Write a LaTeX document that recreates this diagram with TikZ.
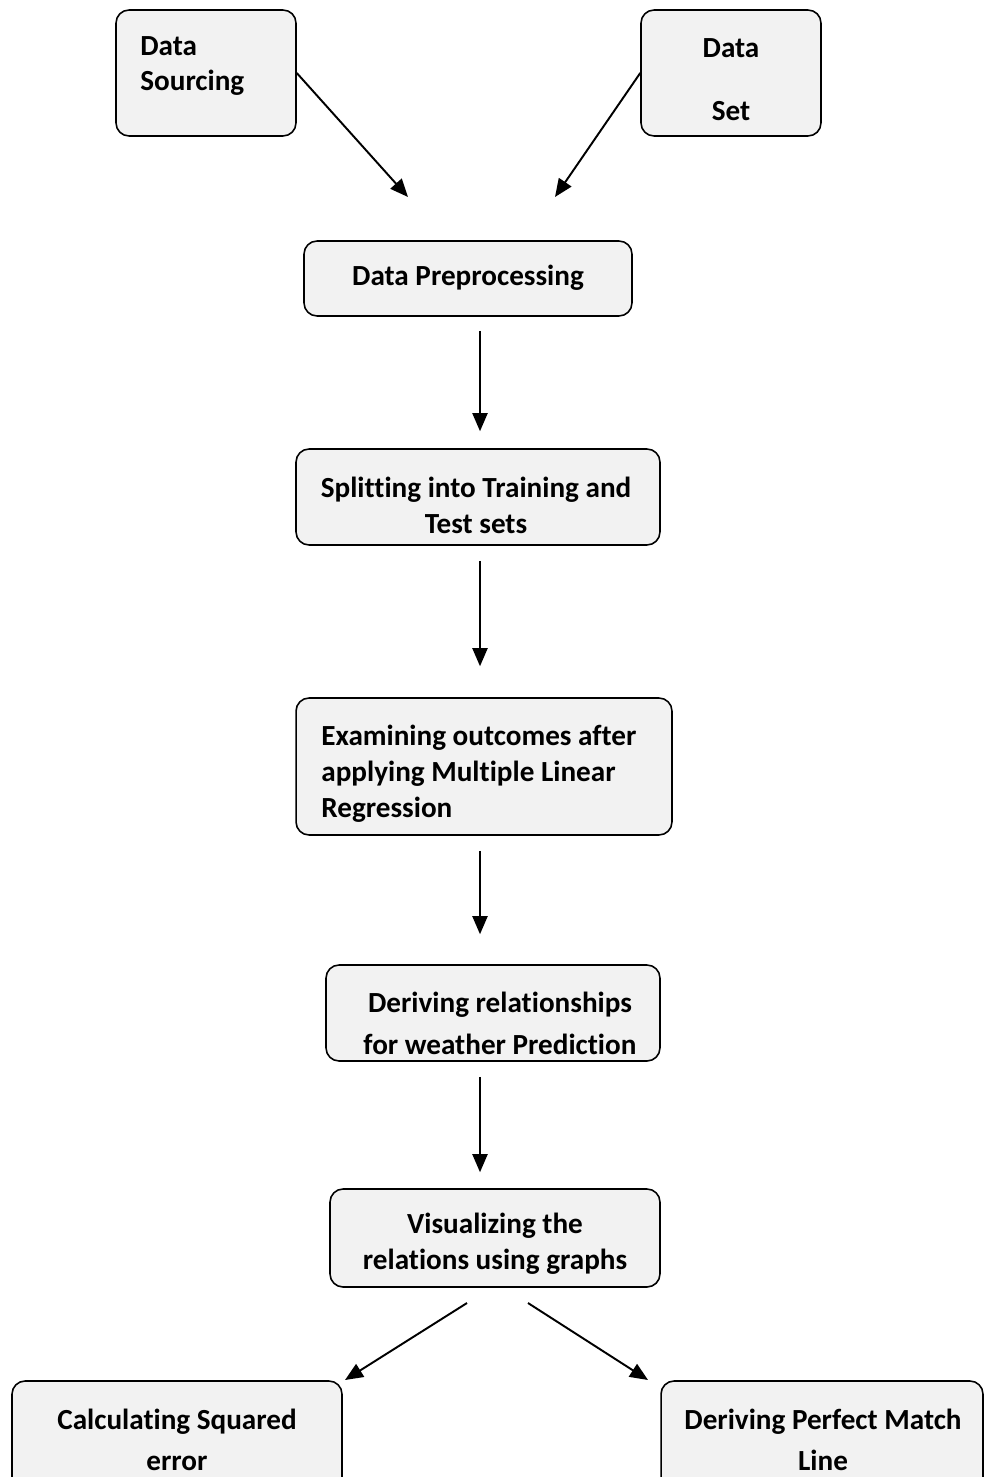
\documentclass[tikz,border=0pt]{standalone}
\usepackage{fontspec}
\setmainfont{Carlito}[Ligatures=NoCommon]
\usetikzlibrary{arrows.meta}
\definecolor{boxgray}{HTML}{F2F2F2}
\tikzset{
  box/.style={draw, fill=boxgray, rounded corners=0.26cm, line width=0.9pt, inner sep=0pt},
  txt/.style={font=\fontsize{16.6pt}{20.4pt}\selectfont\bfseries, inner sep=0pt},
  arr/.style={line width=1.1pt, -{Triangle[length=0.36cm,width=0.3cm]}}
}
\begin{document}
\begin{tikzpicture}[x=0.02cm,y=-0.02cm]
\clip (0,0) rectangle (984,1477);
\useasboundingbox (0,0) rectangle (984,1477);

% boxes
\node[box, minimum width=3.6cm, minimum height=2.52cm] (src) at (206,73) {};
\node[box, minimum width=3.6cm, minimum height=2.52cm] (dset) at (731,73) {};
\node[box, minimum width=6.56cm, minimum height=1.5cm] (prep) at (468,278.5) {};
\node[box, minimum width=7.28cm, minimum height=1.92cm] (split) at (478,497) {};
\node[box, minimum width=7.52cm, minimum height=2.74cm] (exam) at (484,766.5) {};
\node[box, minimum width=6.68cm, minimum height=1.92cm] (rel) at (493,1013) {};
\node[box, minimum width=6.6cm, minimum height=1.96cm] (vis) at (495,1238) {};
\node[box, minimum width=6.6cm, minimum height=2.4cm] (sq) at (177,1441) {};
\node[box, minimum width=6.44cm, minimum height=2.4cm] (match) at (822,1441) {};

% texts
\node[txt, align=left, anchor=west] (srcT) at (140,66) {Data\\Sourcing};
\node[txt, align=center] (dsetT) at (731,80) {Data\\[0.54cm]Set};
\node[txt] (prepT) at (468,278) {Data Preprocessing};
\node[txt, align=center] (splitT) at (476,505) {Splitting into Training and\\Test sets};
\node[txt, align=left, anchor=west] (examT) at (321,774) {Examining outcomes after\\applying Multiple Linear\\Regression};
\node[txt, align=center] (relT) at (500,1023) {Deriving relationships\\[0.12cm]for weather Prediction};
\node[txt, align=center] (visT) at (495,1244) {Visualizing the\\relations using graphs};
\node[txt, align=center] (sqT) at (177,1440) {Calculating Squared\\[0.1cm]error};
\node[txt, align=center] (matchT) at (823,1440) {Deriving Perfect Match\\[0.1cm]Line};

% arrows
\coordinate (xa) at (480,0);
\coordinate (e1) at (408,197);
\coordinate (e2) at (555,197);
\coordinate (v1) at (467,1303);
\coordinate (v2) at (528,1303);
\coordinate (e3) at (345,1380);
\coordinate (e4) at (648,1380);
\draw[arr] (src.east) -- (e1);
\draw[arr] (dset.west) -- (e2);
\draw[arr, shorten <=0.28cm, shorten >=0.34cm] (prep.south -| xa) -- (split.north -| xa);
\draw[arr, shorten <=0.3cm, shorten >=0.62cm] (split.south -| xa) -- (exam.north -| xa);
\draw[arr, shorten <=0.3cm, shorten >=0.6cm] (exam.south -| xa) -- (rel.north -| xa);
\draw[arr, shorten <=0.3cm, shorten >=0.32cm] (rel.south -| xa) -- (vis.north -| xa);
\draw[arr] (v1) -- (e3);
\draw[arr] (v2) -- (e4);
\end{tikzpicture}
\end{document}
